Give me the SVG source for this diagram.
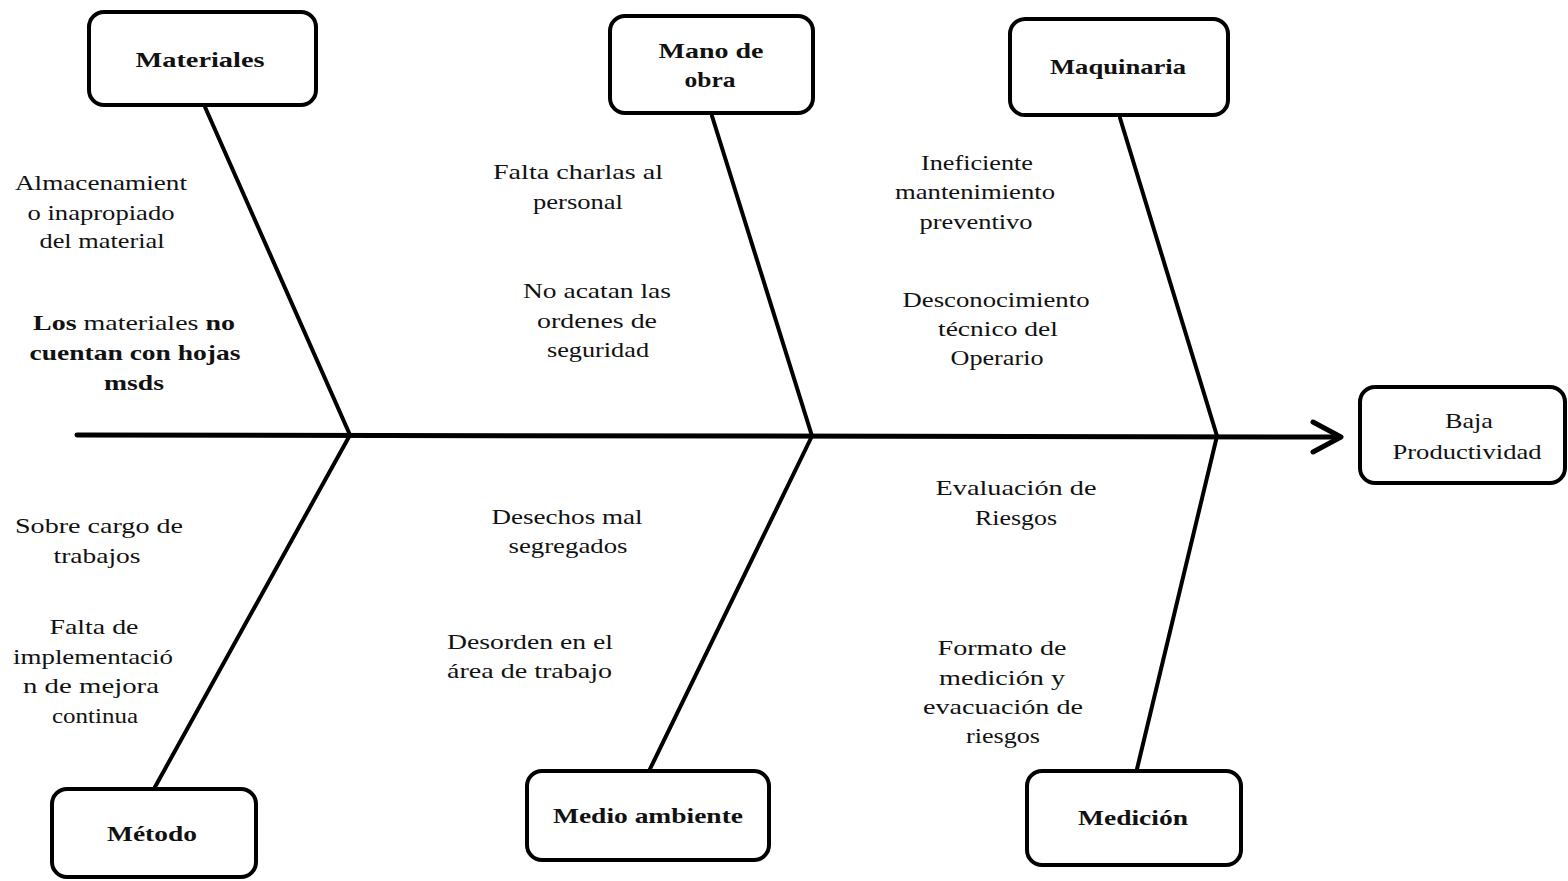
<svg xmlns="http://www.w3.org/2000/svg" width="1568" height="881" viewBox="0 0 1568 881">
<style>
.box{fill:#fff;stroke:#000;stroke-width:4}
.lbl{font-family:"Liberation Serif","Times New Roman",serif;font-size:22px;font-weight:bold;fill:#111;text-anchor:middle}
.t{font-family:"Liberation Serif","Times New Roman",serif;font-size:22px;fill:#111;text-anchor:middle}
.b{font-weight:bold}
.br{stroke:#000;stroke-width:4;fill:none;stroke-linecap:round}
.spine{stroke:#000;stroke-width:5;fill:none;stroke-linecap:round;stroke-linejoin:round}
</style>
<rect width="1568" height="881" fill="#fff"/>
<g id="connectors">
<path class="spine" d="M77 435 L1338 437"/>
<polyline class="spine" points="1313,422 1341,437 1313,452"/>
<path class="br" d="M205 107 L350 435"/>
<path class="br" d="M712 116 L812 436"/>
<path class="br" d="M1120 118 L1217 436"/>
<path class="br" d="M350 435 L155 787"/>
<path class="br" d="M812 436 L650 769"/>
<path class="br" d="M1217 436 L1137 769"/>
</g>
<g id="materiales">
<rect class="box" x="89" y="12" width="227" height="93" rx="15"/>
<text class="lbl" x="200" y="67" textLength="129" lengthAdjust="spacingAndGlyphs">Materiales</text>
</g>
<g id="mano-de-obra">
<rect class="box" x="610" y="16" width="203" height="97" rx="15"/>
<text class="lbl" x="711" y="58" textLength="105" lengthAdjust="spacingAndGlyphs">Mano de</text>
<text class="lbl" x="710" y="87" textLength="51" lengthAdjust="spacingAndGlyphs">obra</text>
</g>
<g id="maquinaria">
<rect class="box" x="1010" y="19" width="218" height="96" rx="15"/>
<text class="lbl" x="1118" y="74" textLength="136" lengthAdjust="spacingAndGlyphs">Maquinaria</text>
</g>
<g id="baja-productividad">
<rect class="box" x="1360" y="387" width="205" height="96" rx="15"/>
<text class="t" x="1469" y="428" textLength="48" lengthAdjust="spacingAndGlyphs">Baja</text>
<text class="t" x="1467" y="459" textLength="149" lengthAdjust="spacingAndGlyphs">Productividad</text>
</g>
<g id="metodo">
<rect class="box" x="52" y="789" width="204" height="88" rx="15"/>
<text class="lbl" x="152" y="841" textLength="90" lengthAdjust="spacingAndGlyphs">Método</text>
</g>
<g id="medio-ambiente">
<rect class="box" x="527" y="771" width="242" height="89" rx="15"/>
<text class="lbl" x="648" y="823" textLength="190" lengthAdjust="spacingAndGlyphs">Medio ambiente</text>
</g>
<g id="medicion">
<rect class="box" x="1027" y="771" width="214" height="94" rx="15"/>
<text class="lbl" x="1133" y="825" textLength="110" lengthAdjust="spacingAndGlyphs">Medición</text>
</g>
<g id="causes-materiales">
<text class="t" x="101" y="190" textLength="172" lengthAdjust="spacingAndGlyphs">Almacenamient</text>
<text class="t" x="101" y="220" textLength="147" lengthAdjust="spacingAndGlyphs">o inapropiado</text>
<text class="t" x="102" y="248" textLength="125" lengthAdjust="spacingAndGlyphs">del material</text>
<text class="t" x="134" y="330" textLength="202" lengthAdjust="spacingAndGlyphs"><tspan class="b">Los</tspan> materiales  <tspan class="b">no</tspan></text>
<text class="t b" x="135" y="360" textLength="211" lengthAdjust="spacingAndGlyphs">cuentan con hojas</text>
<text class="t b" x="134" y="390" textLength="60" lengthAdjust="spacingAndGlyphs">msds</text>
</g>
<g id="causes-mano-de-obra">
<text class="t" x="578" y="179" textLength="170" lengthAdjust="spacingAndGlyphs">Falta charlas al</text>
<text class="t" x="578" y="209" textLength="90" lengthAdjust="spacingAndGlyphs">personal</text>
<text class="t" x="597" y="298" textLength="148" lengthAdjust="spacingAndGlyphs">No acatan las</text>
<text class="t" x="597" y="328" textLength="120" lengthAdjust="spacingAndGlyphs">ordenes de</text>
<text class="t" x="598" y="357" textLength="102" lengthAdjust="spacingAndGlyphs">seguridad</text>
</g>
<g id="causes-maquinaria">
<text class="t" x="977" y="170" textLength="112" lengthAdjust="spacingAndGlyphs">Ineficiente</text>
<text class="t" x="975" y="199" textLength="160" lengthAdjust="spacingAndGlyphs">mantenimiento</text>
<text class="t" x="976" y="229" textLength="113" lengthAdjust="spacingAndGlyphs">preventivo</text>
<text class="t" x="996" y="307" textLength="187" lengthAdjust="spacingAndGlyphs">Desconocimiento</text>
<text class="t" x="998" y="336" textLength="120" lengthAdjust="spacingAndGlyphs">técnico del</text>
<text class="t" x="997" y="365" textLength="93" lengthAdjust="spacingAndGlyphs">Operario</text>
</g>
<g id="causes-metodo">
<text class="t" x="99" y="533" textLength="168" lengthAdjust="spacingAndGlyphs">Sobre cargo de</text>
<text class="t" x="97" y="563" textLength="87" lengthAdjust="spacingAndGlyphs">trabajos</text>
<text class="t" x="94" y="634" textLength="89" lengthAdjust="spacingAndGlyphs">Falta de</text>
<text class="t" x="93" y="664" textLength="160" lengthAdjust="spacingAndGlyphs">implementació</text>
<text class="t" x="91" y="693" textLength="136" lengthAdjust="spacingAndGlyphs">n de mejora</text>
<text class="t" x="95" y="723" textLength="86" lengthAdjust="spacingAndGlyphs">continua</text>
</g>
<g id="causes-medio-ambiente">
<text class="t" x="567" y="524" textLength="151" lengthAdjust="spacingAndGlyphs">Desechos mal</text>
<text class="t" x="568" y="553" textLength="119" lengthAdjust="spacingAndGlyphs">segregados</text>
<text class="t" x="447" y="649" style="text-anchor:start" textLength="166" lengthAdjust="spacingAndGlyphs">Desorden en el</text>
<text class="t" x="447" y="678" style="text-anchor:start" textLength="165" lengthAdjust="spacingAndGlyphs">área de trabajo</text>
</g>
<g id="causes-medicion">
<text class="t" x="1016" y="495" textLength="161" lengthAdjust="spacingAndGlyphs">Evaluación de</text>
<text class="t" x="1016" y="525" textLength="82" lengthAdjust="spacingAndGlyphs">Riesgos</text>
<text class="t" x="1002" y="655" textLength="129" lengthAdjust="spacingAndGlyphs">Formato de</text>
<text class="t" x="1002" y="685" textLength="126" lengthAdjust="spacingAndGlyphs">medición y</text>
<text class="t" x="1003" y="714" textLength="160" lengthAdjust="spacingAndGlyphs">evacuación de</text>
<text class="t" x="1003" y="743" textLength="74" lengthAdjust="spacingAndGlyphs">riesgos</text>
</g>
</svg>
